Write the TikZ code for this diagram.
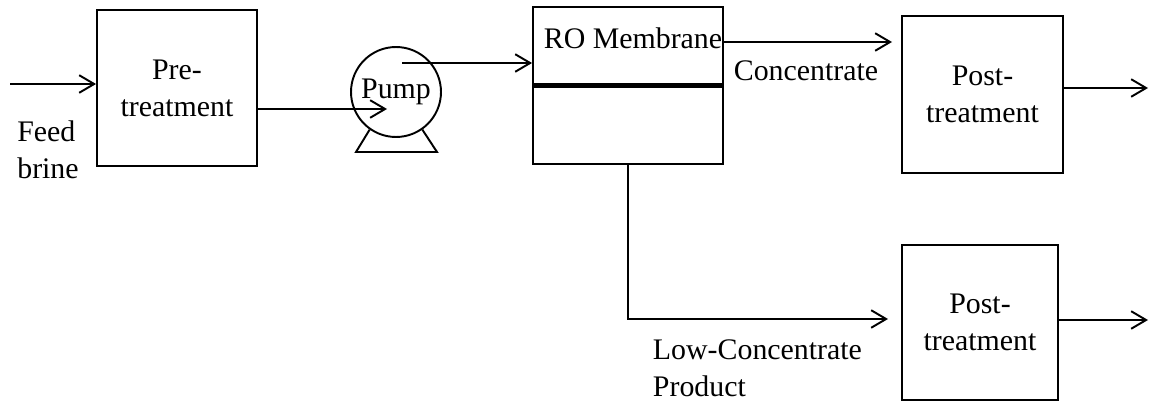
\documentclass[tikz,border=0pt]{standalone}
\usepackage{fontspec}
\setmainfont{Liberation Serif}
\usetikzlibrary{arrows.meta, positioning, calc}

\newcommand{\flowfont}{\fontsize{17}{21}\selectfont}

\begin{document}
\begin{tikzpicture}[x=0.02cm, y=-0.02cm, line width=1.1pt,
  >={Straight Barb[length=8.5pt, width=10pt]},
  unit/.style={rectangle, draw, align=center, inner sep=0pt, font=\flowfont},
  lbl/.style={align=left, inner sep=0pt, font=\flowfont}]
  \useasboundingbox (0,0) rectangle (1149,402);

  % process units
  \node[unit, minimum width=3.2cm, minimum height=3.12cm] (pre) at (177,88) {Pre-\\treatment};
  \node[circle, draw, minimum size=1.8cm, inner sep=0pt, font=\flowfont] (pump) at (396,92) {Pump};
  \node[unit, minimum width=3.8cm, minimum height=3.14cm] (ro) at (628,85.5) {};
  \node[unit, minimum width=3.22cm, minimum height=3.14cm] (postc) at (982.5,94.5) {Post-\\treatment};
  \node[unit, minimum width=3.12cm, minimum height=3.1cm] (postp) at (980,322.5) {Post-\\treatment};

  % pump stand and membrane
  \draw (pump.235) -- ($(pump.center)+(-40,60)$) -- ($(pump.center)+(41,60)$) -- (pump.305);
  \draw[line width=2.3pt] (ro.west) -- (ro.east);

  % labels
  \node[lbl] (rolbl) at (633,38) {RO Membrane};
  \node[lbl] (conclbl) at (806,71) {Concentrate};
  \node[lbl] (feedlbl) at (48,150) {Feed\\brine};
  \node[lbl, anchor=west] (prodlbl) at (652,368) {Low-Concentrate\\Product};

  % stream ends
  \coordinate (feed) at (10,84);
  \coordinate (pumpin) at (387,109);
  \coordinate (pumpout) at (402,63);
  \coordinate (concin) at (892,42);
  \coordinate (prodin) at (888,319);
  \coordinate (concout) at (1148,88);
  \coordinate (prodout) at (1148,320);

  \draw[->] (feed) -- (feed -| pre.west);
  \draw[->] (pumpin -| pre.east) -- (pumpin);
  \draw[->] (pumpout) -- (pumpout -| ro.west);
  \draw[->] (concin -| ro.east) -- (concin);
  \draw[->] (ro.south) |- (prodin);
  \draw[->] (concout -| postc.east) -- (concout);
  \draw[->] (prodout -| postp.east) -- (prodout);
\end{tikzpicture}
\end{document}
